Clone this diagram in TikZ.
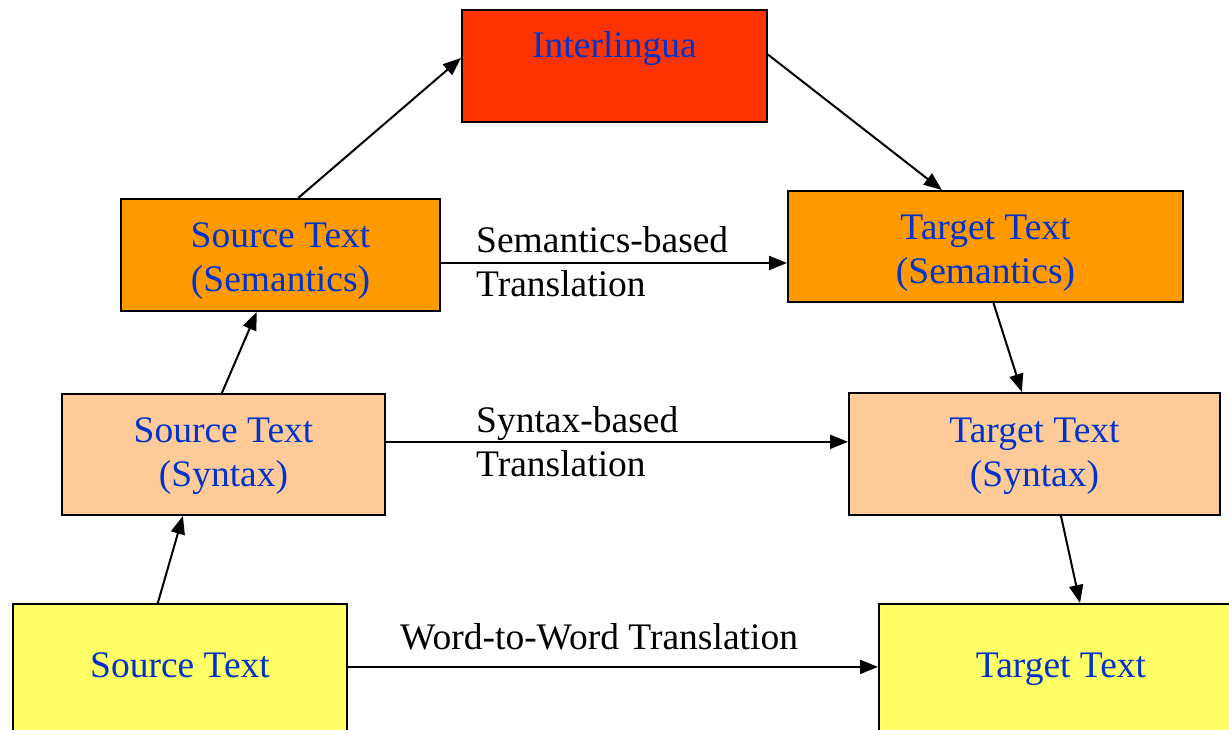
\documentclass[tikz,border=0pt]{standalone}
\usepackage{fontspec}
\setmainfont{Liberation Serif}
\usetikzlibrary{arrows.meta,calc}
\definecolor{txtblue}{HTML}{0033CC}
\definecolor{cinter}{HTML}{FF3300}
\definecolor{corange}{HTML}{FF9900}
\definecolor{cpeach}{HTML}{FFCC99}
\definecolor{cyellow}{HTML}{FFFF66}
\newcommand{\topstrut}{\rule{0pt}{37pt}}
\newcommand{\synstrut}{\rule{0pt}{29pt}}
\begin{document}
\begin{tikzpicture}[x=1pt,y=-1pt,
  box/.style={draw=black,line width=2pt,inner sep=0pt,text=txtblue,
    font=\fontsize{37.5}{44}\selectfont,align=center,rectangle},
  conn/.style={line width=2pt,-{Triangle[length=18pt,width=14pt]}},
  lab/.style={font=\fontsize{37.5}{44}\selectfont,align=left,text=black,inner sep=0pt}]
\clip (0,0) rectangle (1229,729);
\fill[white] (0,0) rectangle (1229,729);

\node[box,fill=cinter,minimum width=305pt,minimum height=112pt,text height=26pt,text depth=44pt] (inter) at (614.5,66) {Interlingua};
\node[box,fill=corange,minimum width=319pt,minimum height=112pt] (ssem) at (280.5,255) {\topstrut Source Text\\(Semantics)};
\node[box,fill=corange,minimum width=395pt,minimum height=111pt] (tsem) at (985.5,246.5) {\topstrut Target Text\\(Semantics)};
\node[box,fill=cpeach,minimum width=323pt,minimum height=121pt] (ssyn) at (223.5,454.5) {\synstrut Source Text\\(Syntax)};
\node[box,fill=cpeach,minimum width=371pt,minimum height=122pt] (tsyn) at (1034.5,454) {\synstrut Target Text\\(Syntax)};
\node[box,fill=cyellow,minimum width=334pt,minimum height=136pt,text height=25pt,text depth=15pt] (src) at (180,672) {Source Text};
\node[box,fill=cyellow,minimum width=364pt,minimum height=136pt,text height=25pt,text depth=15pt] (tgt) at (1061,672) {Target Text};

\draw[conn] ($(ssem.north west)!0.555!(ssem.north east)$) -- ($(inter.north west)!0.43!(inter.south west)$);
\draw[conn] ($(inter.north east)!0.40!(inter.south east)$) -- ($(tsem.north west)!0.39!(tsem.north east)$);
\draw[conn] ($(tsem.south west)!0.52!(tsem.south east)$) -- ($(tsyn.north west)!0.466!(tsyn.north east)$);
\draw[conn] ($(tsyn.south west)!0.571!(tsyn.south east)$) -- ($(tgt.north west)!0.552!(tgt.north east)$);
\draw[conn] ($(src.north west)!0.434!(src.north east)$) -- ($(ssyn.south west)!0.375!(ssyn.south east)$);
\draw[conn] ($(ssyn.north west)!0.495!(ssyn.north east)$) -- ($(ssem.south west)!0.426!(ssem.south east)$);

\draw[conn] ($(ssem.north east)!0.57!(ssem.south east)$) coordinate (h1) -- (h1 -| tsem.west);
\draw[conn] ($(ssyn.north east)!0.397!(ssyn.south east)$) coordinate (h2) -- (h2 -| tsyn.west);
\draw[conn] ($(src.north east)!0.463!(src.south east)$) coordinate (h3) -- (h3 -| tgt.west);

\node[lab,anchor=west] (lsem) at (476,262) {Semantics-based\\Translation};
\node[lab,anchor=west] (lsyn) at (476,442) {Syntax-based\\Translation};
\node[lab,anchor=base west] (lword) at (400,649) {Word-to-Word Translation};
\end{tikzpicture}
\end{document}
